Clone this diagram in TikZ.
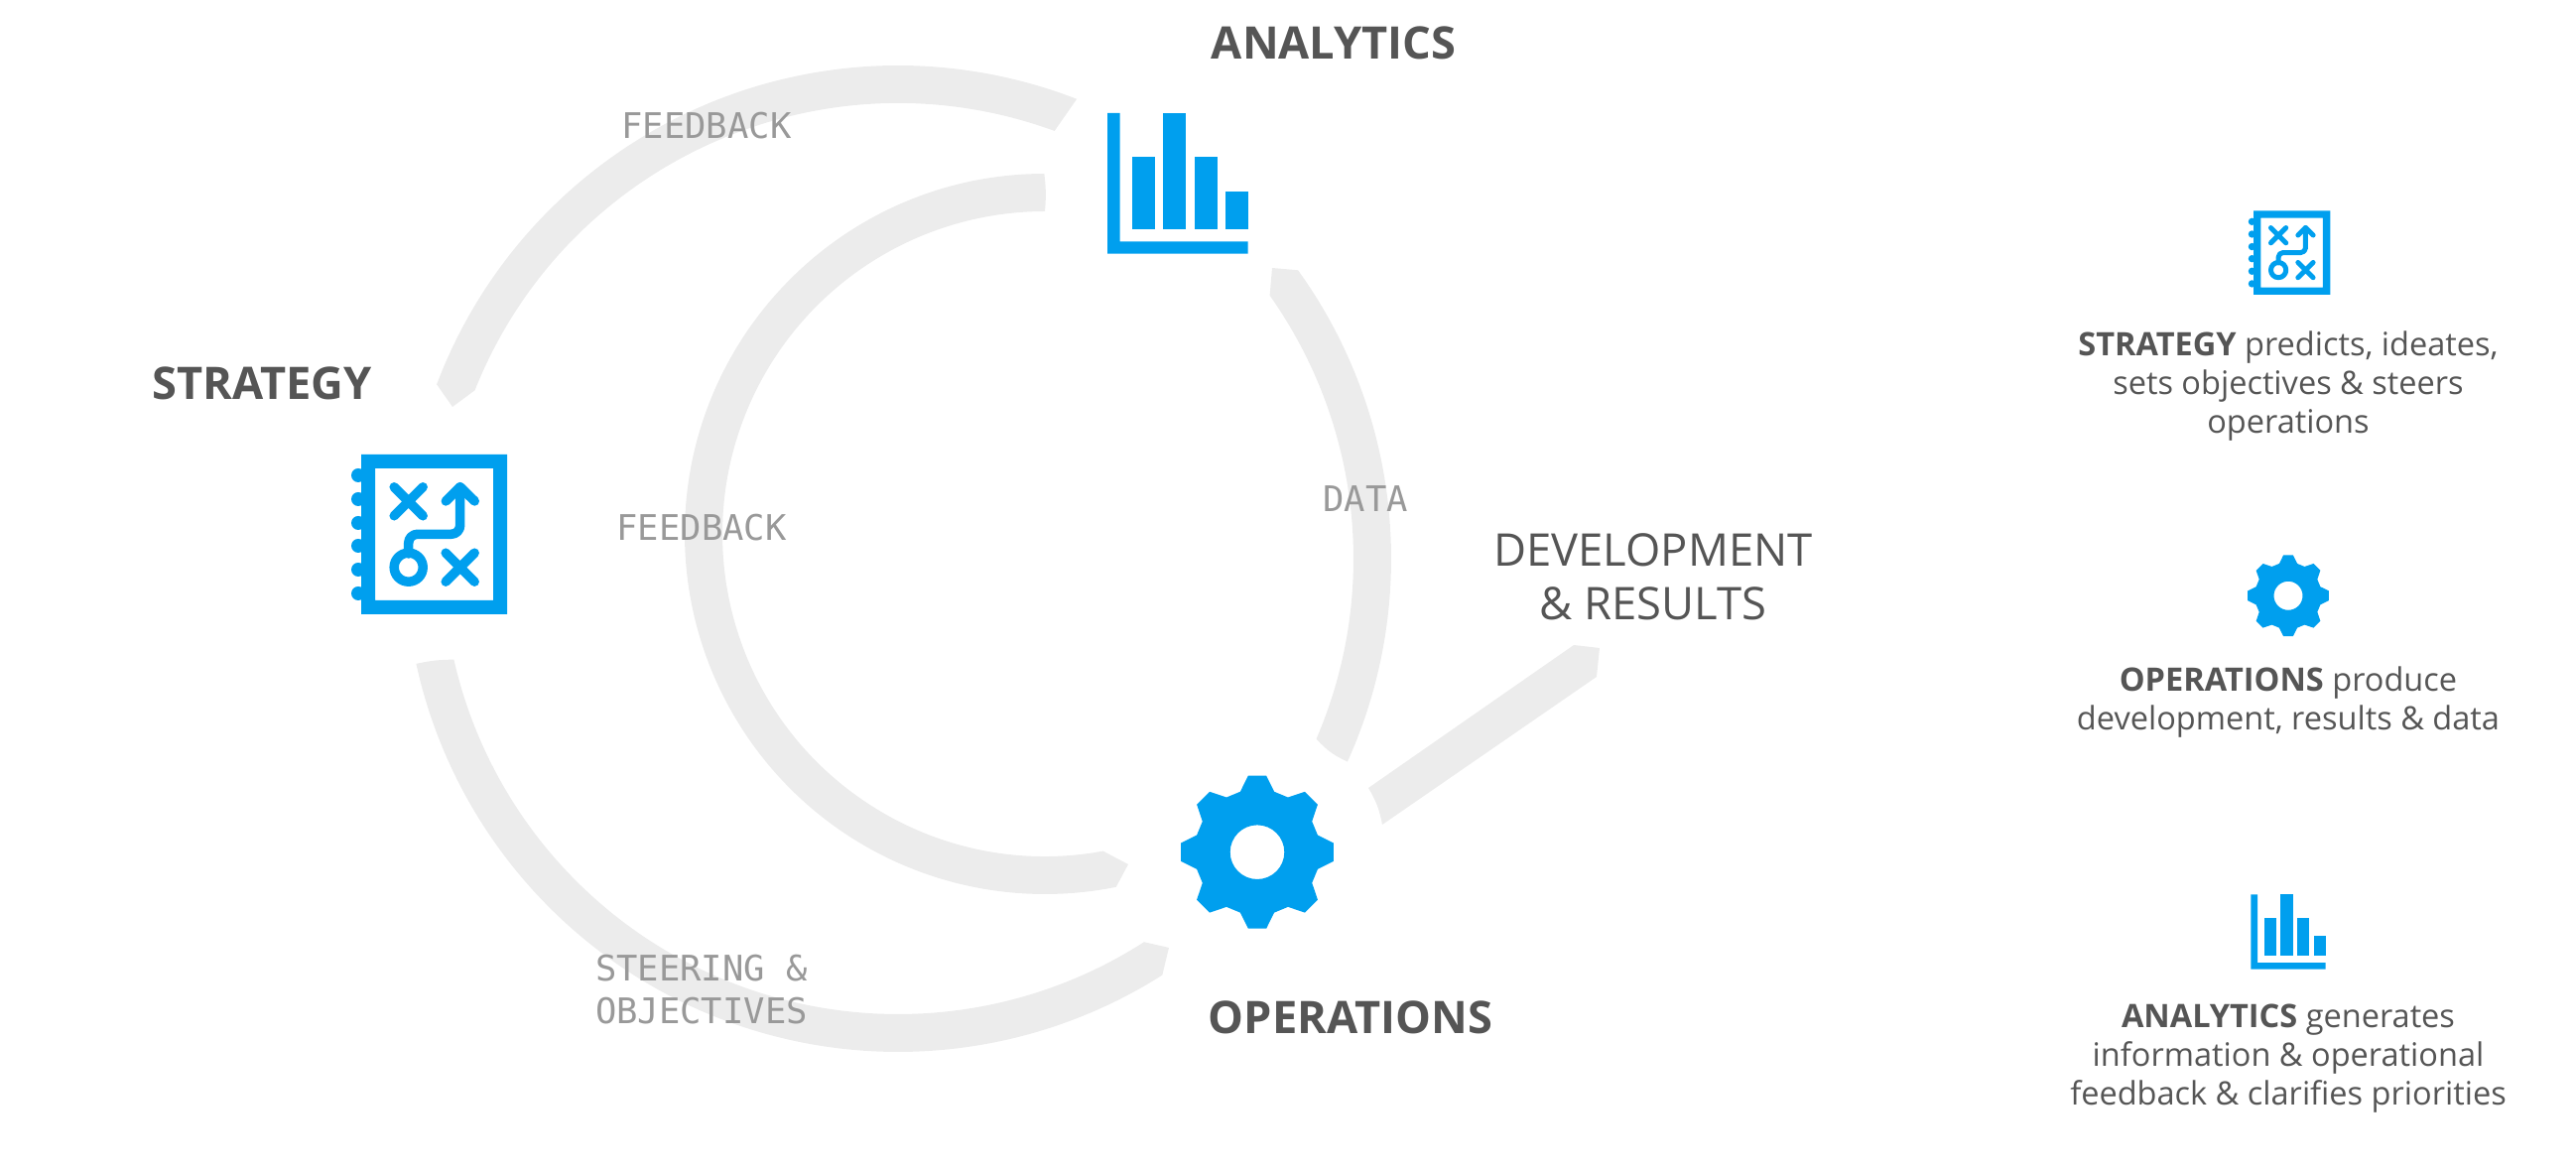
\documentclass[tikz,border=0pt]{standalone}
\usepackage{fontspec}
\setmainfont{Open Sans}
\setmonofont{DejaVu Sans Mono}
\usetikzlibrary{calc}
\definecolor{iconblue}{HTML}{009FEE}
\definecolor{bandgray}{HTML}{ECECEC}
\definecolor{textgray}{HTML}{555555}
\definecolor{flowgray}{HTML}{999999}
\tikzset{
  bandfill/.style={fill=bandgray},
  iconfill/.style={fill=iconblue,even odd rule},
  headlabel/.style={inner sep=0pt,text=textgray,font=\fontsize{12.85}{16}\selectfont\bfseries},
  devlabel/.style={inner sep=0pt,text=textgray,align=center,font=\fontsize{12.9}{15.4}\selectfont},
  flowlabel/.style={inner sep=0pt,text=flowgray,align=left,font=\fontsize{10.1}{12.2}\selectfont\ttfamily},
  notelabel/.style={inner sep=0pt,text=textgray,align=center,font=\fontsize{9.25}{11.1}\selectfont},
}
% icons: #1 top left corner (or centre for the gear), #2 scale
\newcommand{\strategyicon}[2]{
  \begin{scope}[shift={#1},scale=#2]
    \fill[iconfill] (0,0) rectangle (147,-161) (14,-14) rectangle (133,-147);
    \foreach \y in {21,45,69,92,116,140} \fill[iconblue] (-3,-\y) circle (7);
    \begin{scope}[draw=iconblue,line width=#2*9.5*0.01cm,line cap=round,line join=round]
      \draw (33.2,-32.8) -- (62.2,-61.8) (33.2,-61.8) -- (62.2,-32.8);
      \draw (85.2,-99.2) -- (114.2,-128.2) (85.2,-128.2) -- (114.2,-99.2);
      \draw (85.3,-47) -- (99.7,-32.7) -- (114.3,-47);
      \draw[rounded corners=#2*9*0.01cm] (99.7,-32.7) -- (99.7,-80.3) -- (47.7,-80.3) -- (47.7,-100);
      \draw (47.7,-113.7) circle (14.5);
    \end{scope}
  \end{scope}
}
\newcommand{\barsicon}[2]{
  \begin{scope}[shift={#1},scale=#2]
    \fill[iconblue] (0,0) -- (12.7,0) -- (12.7,-129.3) -- (141.7,-129.3) -- (141.7,-141.7) -- (0,-141.7) -- cycle;
    \fill[iconblue] (25.3,-44) rectangle (48,-116.7);
    \fill[iconblue] (56.3,0) rectangle (79.3,-116.7);
    \fill[iconblue] (87.7,-44) rectangle (110.7,-116.7);
    \fill[iconblue] (119,-79.3) rectangle (141.7,-116.7);
  \end{scope}
}
\newcommand{\gearicon}[2]{
  \begin{scope}[shift={#1},scale=#2]
    \fill[iconfill] (74.3:63.3)
      \foreach \a in {0,45,...,315} {
        -- (\a+74.3:63.3) -- (\a+83.2:77.5) -- (\a+96.8:77.5) -- (\a+105.7:63.3)
      } -- cycle (0,0) circle (27.3);
  \end{scope}
}

\begin{document}
\begin{tikzpicture}[x=0.01cm,y=0.01cm]
  \useasboundingbox (0,0) rectangle (2596,-1180);
  \coordinate (bigring) at (905,-563);
  \coordinate (smallring) at (1053,-538);

  % grey bands
  \fill[bandfill] ($(bigring)+(159.3:497)$) arc[start angle=159.3,end angle=68.75,radius=497]
    -- ($(bigring)+(69.9:459)$) arc[start angle=69.9,end angle=158.3,radius=459] -- (456,-410) -- cycle;
  \fill[bandfill] ($(bigring)+(35.8:497)$) arc[start angle=35.8,end angle=-24.3,radius=497]
    to[bend left=12] ($(bigring)+(-23.3:459)$) arc[start angle=-23.3,end angle=35.3,radius=459] -- (1282,-270) -- cycle;
  \fill[bandfill] ($(bigring)+(192.3:497)$) arc[start angle=192.3,end angle=302.4,radius=497]
    -- (1178,-955) -- ($(bigring)+(302.7:459)$) arc[start angle=302.7,end angle=192.8,radius=459]
    to[bend right=6] cycle;
  \fill[bandfill] ($(smallring)+(90.1:363)$) arc[start angle=90.1,end angle=281.4,radius=363]
    -- (1137,-871) -- ($(smallring)+(280.4:325)$) arc[start angle=280.4,end angle=90,radius=325]
    to[bend right=6] cycle;
  \fill[bandfill] (1379,-794) -- (1586,-650) -- (1612,-653) -- (1609,-682) -- (1393,-831) to[bend right=10] cycle;

  % big icons
  \strategyicon{(364,-458)}{1}
  \barsicon{(1116,-114)}{1}
  \gearicon{(1267,-858.7)}{1}

  % small icons
  \strategyicon{(2271,-212.3)}{0.526}
  \gearicon{(2306,-600.3)}{0.531}
  \barsicon{(2268.3,-901.3)}{0.532}

  \node[headlabel] (analyticslabel) at (1344,-43) {ANALYTICS};
  \node[headlabel] (strategylabel) at (264,-386) {STRATEGY};
  \node[headlabel] (operationslabel) at (1361,-1025) {OPERATIONS};
  \node[devlabel] (devlabel) at (1666,-581) {DEVELOPMENT\\\& RESULTS};

  \node[flowlabel] (feedbackouter) at (712,-127) {FEEDBACK};
  \node[flowlabel] (feedbackinner) at (707,-532) {FEEDBACK};
  \node[flowlabel] (datalabel) at (1376,-503) {DATA};
  \node[flowlabel] (steeringlabel) at (707,-997) {STEERING \&\\OBJECTIVES};

  \node[notelabel] (strategynote) at (2306,-389) {\textbf{STRATEGY} predicts, ideates,\\sets objectives \& steers\\operations};
  \node[notelabel] (operationsnote) at (2306,-708) {\textbf{OPERATIONS} produce\\development, results \& data};
  \node[notelabel] (analyticsnote) at (2306,-1067) {\textbf{ANALYTICS} generates\\information \& operational\\feedback \& clarifies priorities};
\end{tikzpicture}
\end{document}
